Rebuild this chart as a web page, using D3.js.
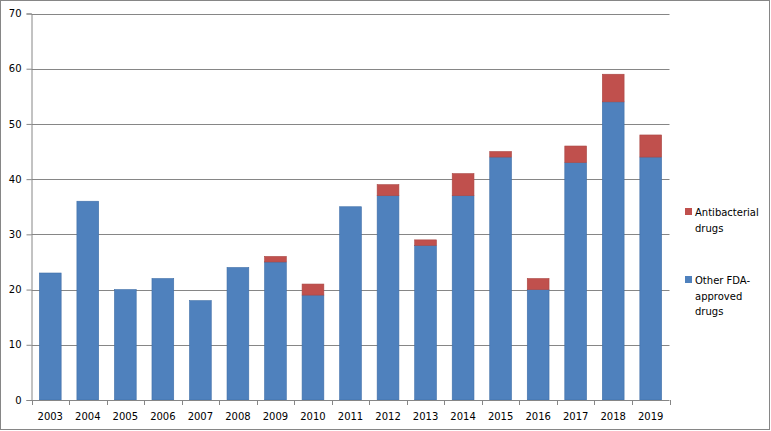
<!DOCTYPE html>
<html>
<head>
<meta charset="utf-8">
<script src="https://cdn.jsdelivr.net/npm/d3@7"></script>
<style>
  body { margin: 0; background: #fff; }
  svg { display: block; font-family: "DejaVu Sans", Verdana, sans-serif; }
</style>
</head>
<body>
<div id="chart"></div>
<script>
// data
const years = ['2003','2004','2005','2006','2007','2008','2009','2010','2011',
    '2012','2013','2014','2015','2016','2017','2018','2019'];
const otherDrugs = [23, 36, 20, 22, 18, 24, 25, 19, 35, 37, 28, 37, 44, 20, 43, 54, 44];
const antibacterial = [0, 0, 0, 0, 0, 0, 1, 2, 0, 2, 1, 4, 1, 2, 3, 5, 4];
const yTicks = [0, 10, 20, 30, 40, 50, 60, 70];
const seriesNames = ['Other FDA-approved drugs', 'Antibacterial drugs'];

const size = { width: 771, height: 431 };
const plot = { left: 31.5, right: 669.5, top: 13.5, bottom: 400 };
const colors = { other: '#4f81bd', anti: '#c0504d' };
const fontSize = 10;

const rows = years.map((y, i) => ({ year: y, other: otherDrugs[i], anti: antibacterial[i] }));
const stacked = d3.stack().keys(['other', 'anti'])(rows);

const svg = d3.select('#chart').append('svg')
    .attr('width', size.width)
    .attr('height', size.height);

// outer frame
svg.append('rect')
    .attr('x', 0.5).attr('y', 0.5)
    .attr('width', size.width - 2).attr('height', size.height - 2)
    .attr('fill', '#fff')
    .attr('stroke', '#868686');

const xScale = d3.scaleBand()
    .domain(years)
    .range([plot.left, plot.right])
    .paddingInner(0.42)
    .paddingOuter(0.21);

const yScale = d3.scaleLinear()
    .domain([0, 70])
    .range([plot.bottom, plot.top]);

// gridlines
svg.append('g')
    .selectAll('line')
    .data(yTicks.filter(t => t > 0))
    .join('line')
    .attr('x1', plot.left).attr('x2', plot.right)
    .attr('y1', d => Math.round(yScale(d)) + 0.5)
    .attr('y2', d => Math.round(yScale(d)) + 0.5)
    .attr('stroke', '#868686');

// bars
svg.append('g')
    .selectAll('g')
    .data(stacked)
    .join('g')
    .attr('fill', d => d.key === 'other' ? colors.other : colors.anti)
    .attr('stroke', d => d.key === 'other' ? '#3f6fa8' : '#a94643')
    .attr('stroke-width', 0.6)
    .selectAll('rect')
    .data(d => d.filter(p => p[1] > p[0]))
    .join('rect')
    .attr('x', d => xScale(d.data.year))
    .attr('width', xScale.bandwidth())
    .attr('y', d => yScale(d[1]))
    .attr('height', d => yScale(d[0]) - yScale(d[1]));

// y axis
const yAxis = svg.append('g')
    .attr('transform', `translate(${plot.left},0)`)
    .call(d3.axisLeft(yScale).tickValues(yTicks).tickSize(5).tickPadding(5));
yAxis.select('.domain').attr('stroke', '#868686');
yAxis.selectAll('.tick line').attr('stroke', '#868686');
yAxis.selectAll('text').attr('font-size', fontSize).attr('fill', '#000')
    .attr('font-family', '"DejaVu Sans", Verdana, sans-serif');

// x axis with ticks between categories
const step = xScale.step();
const xAxisG = svg.append('g');
xAxisG.append('line')
    .attr('x1', plot.left).attr('x2', plot.right)
    .attr('y1', plot.bottom + 0.5).attr('y2', plot.bottom + 0.5)
    .attr('stroke', '#868686');
xAxisG.selectAll('.sep')
    .data(d3.range(years.length + 1))
    .join('line')
    .attr('x1', i => Math.round(plot.left + i * step) + 0.5)
    .attr('x2', i => Math.round(plot.left + i * step) + 0.5)
    .attr('y1', plot.bottom).attr('y2', plot.bottom + 5)
    .attr('stroke', '#868686');
xAxisG.selectAll('text')
    .data(years)
    .join('text')
    .attr('x', d => xScale(d) + xScale.bandwidth() / 2)
    .attr('y', 420)
    .attr('text-anchor', 'middle')
    .attr('font-size', fontSize)
    .text(d => d);

// legend
const legend = [
    { color: colors.anti, lines: ['Antibacterial', 'drugs'], y: 212 },
    { color: colors.other, lines: ['Other FDA-', 'approved', 'drugs'], y: 280 }
];
const lg = svg.append('g');
legend.forEach(item => {
    lg.append('rect')
        .attr('x', 685).attr('y', item.y - 4)
        .attr('width', 7).attr('height', 7)
        .attr('fill', item.color);
    item.lines.forEach((t, j) => {
        lg.append('text')
            .attr('x', 695)
            .attr('y', item.y + 4 + j * 15.5)
            .attr('font-size', fontSize)
            .text(t);
    });
});
</script>
</body>
</html>
